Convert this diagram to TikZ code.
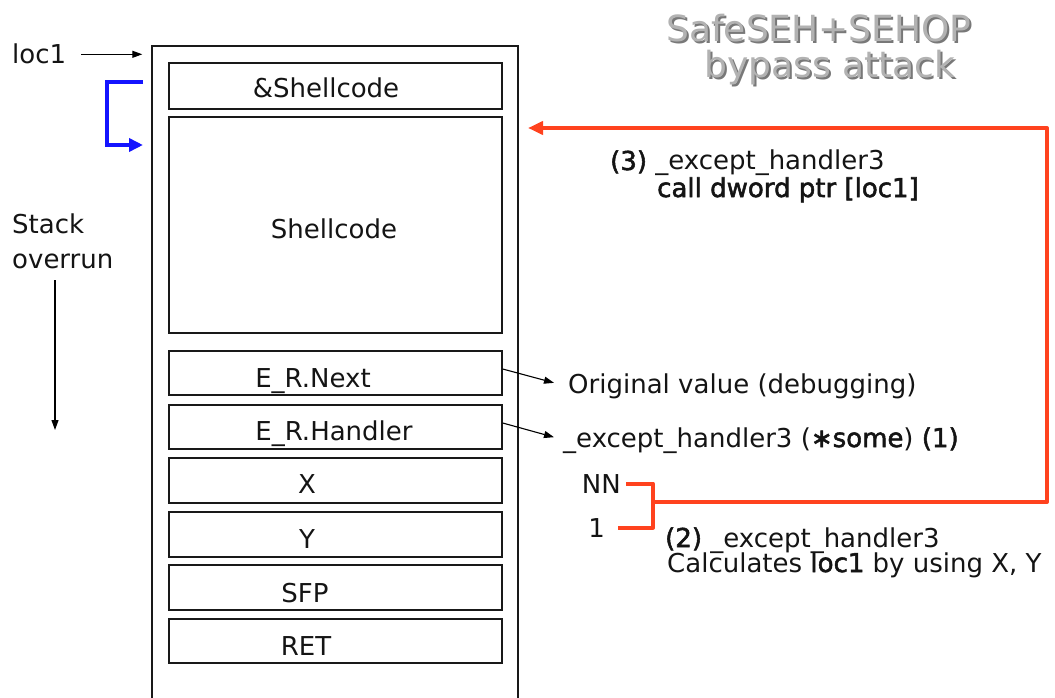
\documentclass[tikz,border=0pt]{standalone}
\usepackage{fontspec}
\setmainfont{DejaVu Sans}[BoldFont={DejaVu Sans},BoldFeatures={FakeBold=2}]
\usetikzlibrary{arrows.meta,calc}
\definecolor{jumpred}{RGB}{255,66,30}
\definecolor{jumpblue}{RGB}{20,20,255}
\definecolor{titlegray}{RGB}{178,178,178}
\definecolor{titleshade}{RGB}{120,120,120}

\begin{document}
\begin{tikzpicture}[x=1pt,y=-1pt,
  frame/.style={draw=black!90,line width=1.4pt,inner sep=0pt},
  slot/.style={frame,minimum width=333pt},
  txt/.style={inner sep=0pt,font=\fontsize{26}{30}\selectfont,text=black!92},
  ttl/.style={inner sep=0pt,anchor=base,font=\fontsize{36}{40}\selectfont},
  ptr/.style={line width=1.1pt,-{Triangle[length=10pt,width=7pt]}},
  redpath/.style={draw=jumpred,line width=4pt,line join=round},
  bluepath/.style={draw=jumpblue,line width=4pt,-{Triangle[length=14pt,width=13pt]}}]
\useasboundingbox (0,0) rectangle (1055,698);

% title with a drop shadow
\node[ttl,text=titleshade] at (821,44) {SafeSEH+SEHOP};
\node[ttl,text=titlegray] (t1) at (819,42) {SafeSEH+SEHOP};
\node[ttl,text=titleshade] at (832,80) {bypass attack};
\node[ttl,text=titlegray] (t2) at (830,78) {bypass attack};

% stack frame (open towards the bottom)
\node[frame,minimum width=366pt,minimum height=680pt] (stack) at (335,386) {};

% stack slots
\node[slot,minimum height=46pt]  (amp)  at (335.5,86)  {};
\node[slot,minimum height=216pt] (sc)   at (335.5,225) {};
\node[slot,minimum height=44pt]  (next) at (335.5,373) {};
\node[slot,minimum height=44pt]  (hand) at (335.5,427) {};
\node[slot,minimum height=45pt]  (sx)   at (335.5,480.5) {};
\node[slot,minimum height=45pt]  (sy)   at (335.5,534.5) {};
\node[slot,minimum height=45pt]  (sfp)  at (335.5,587.5) {};
\node[slot,minimum height=44pt]  (ret)  at (335.5,641) {};

% slot labels
\node[txt,anchor=base] (ampl)  at (326,98)  {\&Shellcode};
\node[txt,anchor=base] (scl)   at (334,238) {Shellcode};
\node[txt,anchor=base] (nextl) at (313,387) {E\_R.Next};
\node[txt,anchor=base] (handl) at (334,440) {E\_R.Handler};
\node[txt,anchor=base] (sxl)   at (307,493) {X};
\node[txt,anchor=base] (syl)   at (307,548) {Y};
\node[txt,anchor=base] (sfpl)  at (305,602) {SFP};
\node[txt,anchor=base] (retl)  at (306,655) {RET};

% left side
\node[txt,anchor=base west] (loc)  at (12,64)  {loc1};
\node[txt,anchor=base west] (stk)  at (12,233) {Stack};
\node[txt,anchor=base west] (over) at (12,268) {overrun};
\coordinate (growA) at (55,280);
\coordinate (growB) at (55,430);
\draw[ptr] (growA) -- (growB);
\draw[ptr] ([xshift=15pt]loc.east) -- ([xshift=-9pt]stack.west |- loc.east);

% &Shellcode points to Shellcode
\coordinate (bS) at (143,82);
\coordinate (bE) at (143,145);
\draw[bluepath] (bS) -- ++(-36,0) |- (bE);

% right side notes
\node[txt,anchor=base west] (orig) at (568,393) {Original value (debugging)};
\node[txt,anchor=base west] (exh)  at (563,447) {\_except\_handler3 (\textbf{∗some}) \textbf{(1)}};
\draw[ptr] ([yshift=4pt]next.east) -- ([xshift=-14pt,yshift=3pt]orig.west);
\draw[ptr] ([yshift=4pt]hand.east) -- ([xshift=-9pt,yshift=3pt]exh.west);

\node[txt,anchor=base east] (nn)  at (621,493) {NN};
\node[txt,anchor=base east] (one) at (605,537) {1};
\node[txt,anchor=base west] (st2) at (665,547) {\textbf{(2)} \_except\_handler3};
\node[txt,anchor=base west] (cal) at (667,572) {Calculates \textbf{loc1} by using X, Y};
\node[txt,anchor=base west] (st3) at (610,170) {\textbf{(3)} \_except\_handler3};
\node[txt,anchor=base west] (cdp) at (657,197) {\textbf{call dword ptr [loc1]}};

% X and Y combine, then the handler jumps to loc1
\coordinate (j) at (653,502);
\coordinate (rc) at (1047,502);
\coordinate (entry) at (528,128);
\draw[redpath] ([xshift=5pt]nn.east) -| (j) |- ([xshift=13pt]one.east);
\draw[redpath,-{Triangle[length=15pt,width=13pt]}] (j) -- (rc) |- (entry);
\end{tikzpicture}
\end{document}
